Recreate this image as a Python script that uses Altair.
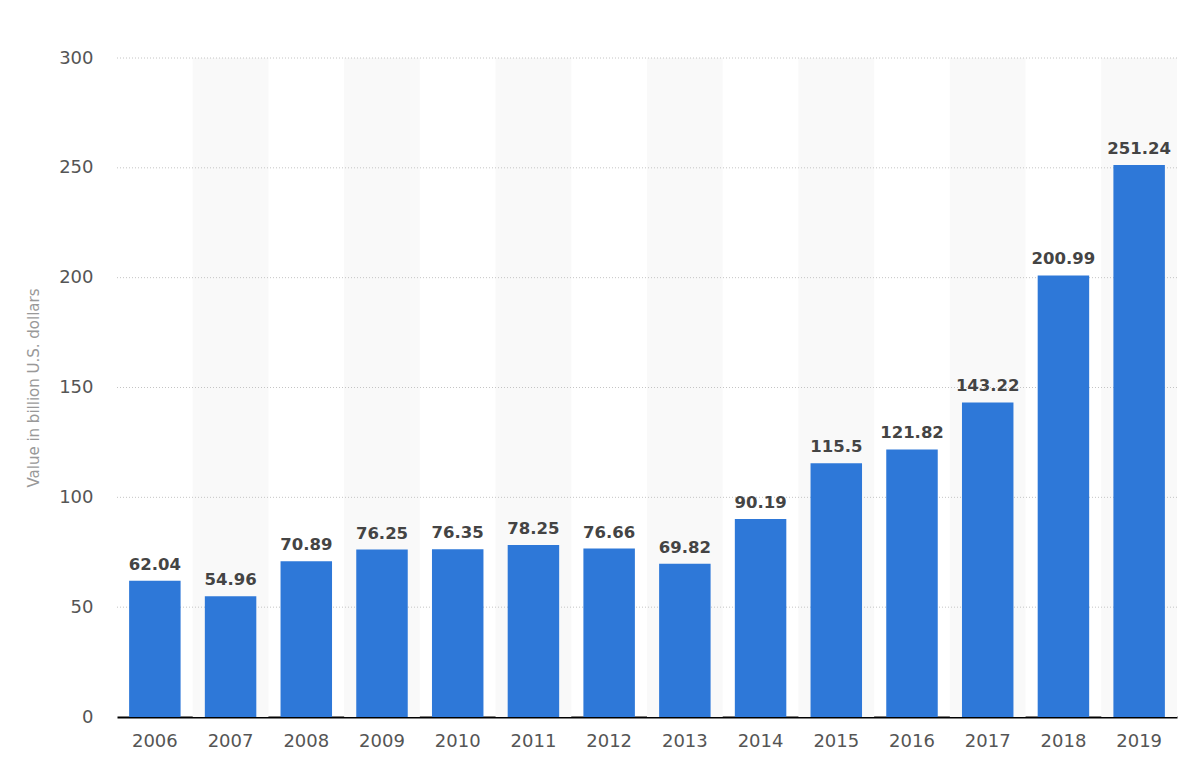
import altair as alt
import pandas as pd

years = ["2006", "2007", "2008", "2009", "2010", "2011", "2012",
         "2013", "2014", "2015", "2016", "2017", "2018", "2019"]
values = [62.04, 54.96, 70.89, 76.25, 76.35, 78.25, 76.66,
          69.82, 90.19, 115.5, 121.82, 143.22, 200.99, 251.24]
labels = ["62.04", "54.96", "70.89", "76.25", "76.35", "78.25", "76.66",
          "69.82", "90.19", "115.5", "121.82", "143.22", "200.99", "251.24"]
band_years = years[1::2]
y_ticks = [0, 50, 100, 150, 200, 250, 300]

df = pd.DataFrame({"year": years, "value": values, "label": labels})
bands = pd.DataFrame({"year": band_years, "value": [300] * len(band_years)})
grid_df = pd.DataFrame({"value": y_ticks[1:]})

FONT = "DejaVu Sans"
W, H = 1060, 659

xscale = alt.Scale(domain=years, paddingInner=0, paddingOuter=0)
yscale = alt.Scale(domain=[0, 300], nice=False)

x_enc = alt.X("year:N", scale=xscale, sort=years,
              axis=alt.Axis(title=None, labelAngle=0, ticks=False, domain=True,
                            domainColor="#000000", domainWidth=2, grid=False,
                            labelFont=FONT, labelFontSize=18, labelColor="#555555",
                            labelPadding=15))
y_enc = alt.Y("value:Q", scale=yscale,
              axis=alt.Axis(title="Value in billion U.S. dollars", values=y_ticks,
                            ticks=False, domain=False, grid=False,
                            labelFont=FONT, labelFontSize=18, labelColor="#555555",
                            labelPadding=24,
                            titleFont=FONT, titleFontSize=15, titleColor="#999999",
                            titleFontWeight="normal", titlePadding=17))

bg = alt.Chart(bands).mark_bar(color="#f9f9f9").encode(x=x_enc, y=y_enc)

grid = alt.Chart(grid_df).mark_rule(color="#c4c4c4", strokeDash=[1, 2], strokeWidth=1).encode(
    y=y_enc,
    x=alt.value(0), x2=alt.value(W),
)

bars = alt.Chart(df).mark_bar(color="#2e78d8", width=alt.RelativeBandSize(0.68)).encode(
    x=x_enc, y=y_enc,
)

text = alt.Chart(df).mark_text(font=FONT, fontSize=16.5, fontWeight="bold",
                               color="#444444", dy=-16).encode(
    x=x_enc, y=y_enc, text="label:N",
)

chart = alt.layer(bg, grid, bars, text).properties(
    width=W, height=H,
    autosize=alt.AutoSizeParams(type="none"),
    padding={"left": 109, "top": 50, "right": 15, "bottom": 50},
    background="#ffffff",
).configure_view(stroke=None)

chart.save("out.html", embed_options={"renderer": "svg", "actions": False})
